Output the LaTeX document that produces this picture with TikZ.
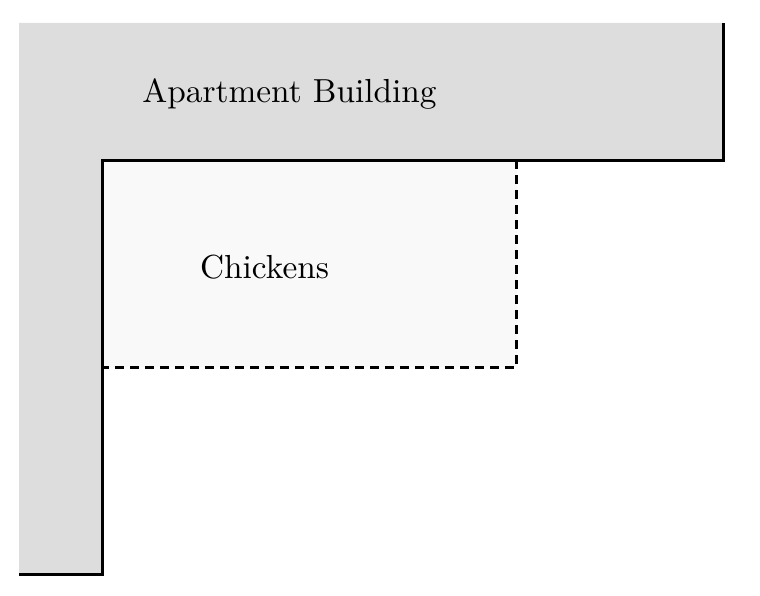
\documentclass[tikz,border=0pt]{standalone}
\begin{document}
\begin{tikzpicture}[x=0.3pt,y=-0.3pt,
  wall/.style={line width=0.9pt,line join=miter},
  fence/.style={line width=0.85pt,dash pattern=on 2.7pt off 1.8pt},
  label/.style={font=\normalsize,inner sep=0pt}]
\definecolor{bldg}{HTML}{DDDDDD}
\definecolor{coop}{HTML}{F9F9F9}
\useasboundingbox (0,0) rectangle (760,596);
% building fill
\fill[bldg] (19,23) -- (723.5,23) -- (723.5,160.5) -- (102.5,160.5) -- (102.5,574.5) -- (19,574.5) -- cycle;
% chickens area
\fill[coop] (102.5,160.5) rectangle (516.5,367.5);
\draw[fence] (516.5,160.5) -- (516.5,367.5) -- (102.5,367.5);
% building outline
\draw[wall] (723.5,23) -- (723.5,160.5) -- (102.5,160.5) -- (102.5,574.5) -- (19,574.5);
% labels
\node[label,anchor=base] (apt) at (289.5,103) {Apartment Building};
\node[label,anchor=base] (chk) at (264.5,279) {Chickens};
\end{tikzpicture}
\end{document}
